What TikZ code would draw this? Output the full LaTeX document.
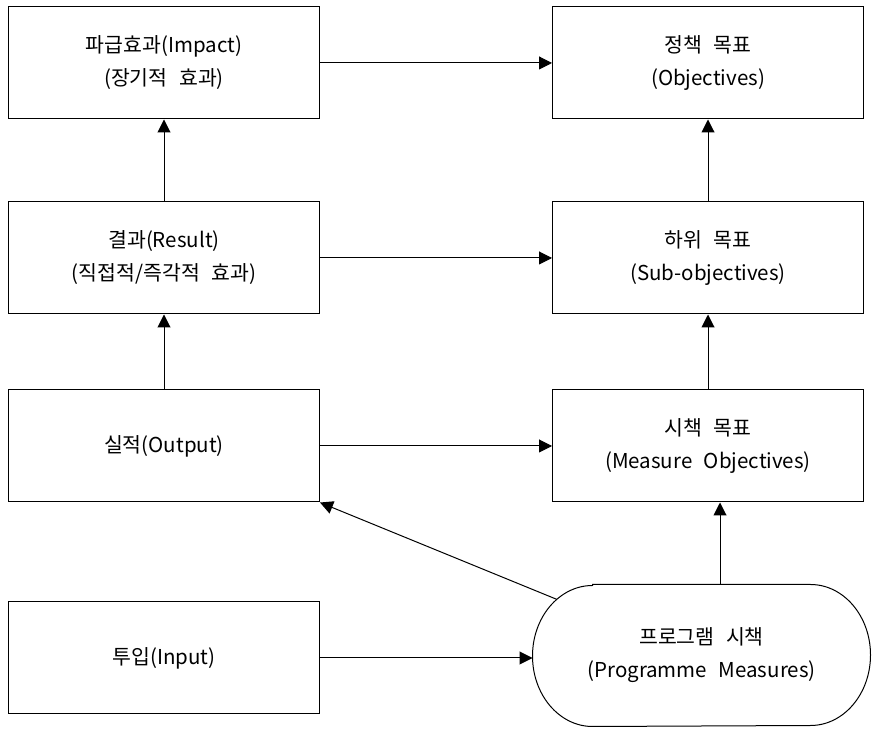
\documentclass[tikz,border=0pt]{standalone}
\usepackage{fontspec}
\setmainfont{Noto Sans CJK KR}[WordSpace=2.5]
\usetikzlibrary{arrows.meta, calc}

\begin{document}
\begin{tikzpicture}[x=1pt, y=1pt, line width=1pt,
      box/.style={draw, rectangle, minimum width=311pt, minimum height=112pt, align=center, font=\fontsize{20.5}{33}\selectfont},
      pill/.style={rectangle, minimum width=337pt, minimum height=141pt, align=center, font=\fontsize{20.5}{33}\selectfont},
      arr/.style={-{Triangle[length=13pt, width=13pt]}}]
      \useasboundingbox (0,0) rectangle (872,730);

      \node[box] (impact) at (164,667) {파급효과(Impact)\\(장기적 효과)};
      \node[box] (result) at (164,472) {결과(Result)\\(직접적/즉각적 효과)};
      \node[box] (output) at (164,284) {실적(Output)};
      \node[box] (input) at (164,72) {투입(Input)};

      \node[box] (objectives) at (708,667) {정책 목표\\(Objectives)};
      \node[box] (subobj) at (708,472) {하위 목표\\(Sub-objectives)};
      \node[box] (measobj) at (708,284) {시책 목표\\(Measure Objectives)};
      \node[pill] (progmeas) at (701.5,74.5) {프로그램 시책\\(Programme Measures)};

      \draw ([xshift=60pt]progmeas.north west) -- ([xshift=-60pt]progmeas.north east)
        arc[start angle=90, end angle=-90, x radius=60pt, y radius=70.5pt]
        -- ([xshift=60pt]progmeas.south west)
        arc[start angle=270, end angle=90, x radius=60pt, y radius=70.5pt] -- cycle;
      \coordinate (pmtop) at ([xshift=18.5pt]progmeas.north);
      \coordinate (pmleft) at ($([xshift=60pt]progmeas.west)+(127:60pt and 70.5pt)$);

      \draw[arr] (impact) -- (objectives);
      \draw[arr] (result) -- (subobj);
      \draw[arr] (output) -- (measobj);
      \draw[arr] (input.east) -- (input.east -| progmeas.west);

      \draw[arr] (result) -- (impact);
      \draw[arr] (output) -- (result);
      \draw[arr] (subobj) -- (objectives);
      \draw[arr] (measobj) -- (subobj);
      \draw[arr] (pmtop) -- (pmtop |- measobj.south);
      \draw[arr] (pmleft) -- (output.south east);
    \end{tikzpicture}
\end{document}
